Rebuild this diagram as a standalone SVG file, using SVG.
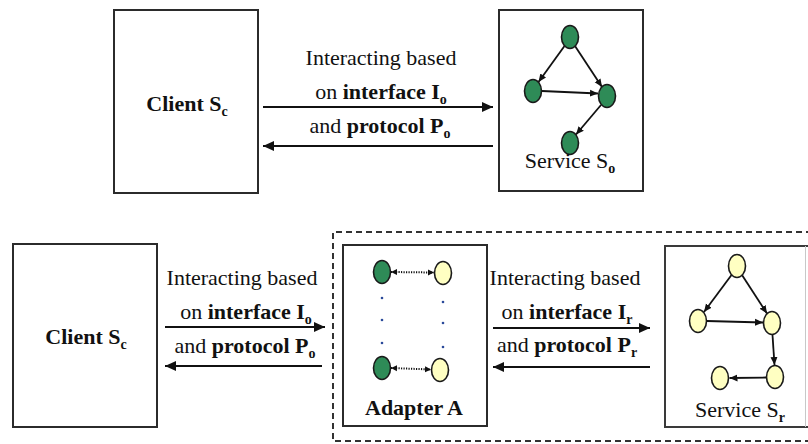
<svg xmlns="http://www.w3.org/2000/svg" width="808" height="444" viewBox="0 0 808 444">
  <style>
    .box { fill: #ffffff; stroke: #2b2b2b; stroke-width: 2; }
    .frame { fill: none; stroke: #333333; stroke-width: 2; stroke-dasharray: 6 4; }
    .lbl { font-family: 'Liberation Serif', 'DejaVu Serif', serif; font-size: 22px; fill: #111111; text-anchor: middle; }
    .b { font-weight: bold; }
    .sub { font-size: 14px; font-weight: bold; }
    .flow { stroke: #111111; stroke-width: 2; fill: none; }
    .edge { stroke: #111111; stroke-width: 1.8; fill: none; marker-end: url(#tip); }
    .map { stroke: #111111; stroke-width: 2; stroke-dasharray: 1.2 1.3; fill: none; marker-start: url(#tipS); marker-end: url(#tipS); }
    .g { fill: #2e8b57; stroke: #1a1a1a; stroke-width: 1.6; }
    .y { fill: #ffffc2; stroke: #1a1a1a; stroke-width: 1.6; }
    .dot { fill: #2a4a9a; }
  </style>
  <defs>
    <marker id="head" markerUnits="userSpaceOnUse" markerWidth="12" markerHeight="12" refX="11" refY="6" orient="auto">
      <path d="M0,1 L11,6 L0,11 z" fill="#111111"/>
    </marker>
    <marker id="tip" markerUnits="userSpaceOnUse" markerWidth="9" markerHeight="8" refX="8" refY="4" orient="auto">
      <path d="M0,0.5 L8,4 L0,7.5 z" fill="#111111"/>
    </marker>
    <marker id="tipS" markerUnits="userSpaceOnUse" markerWidth="7" markerHeight="7" refX="6" refY="3.5" orient="auto-start-reverse">
      <path d="M0,0.5 L6,3.5 L0,6.5 z" fill="#111111"/>
    </marker>
  </defs>

  <!-- adapter boundary -->
  <path class="frame" d="M812,232 H333 V441 H812"/>

  <!-- upper row: client talks directly to the original service -->
  <g id="client-top">
    <rect class="box" x="114" y="10" width="144" height="183"/>
    <text class="lbl b" x="187" y="111">Client S<tspan class="sub" dy="5">c</tspan></text>
  </g>

  <g id="service-o">
    <rect class="box" x="499" y="10" width="144" height="181"/>
    <g class="edges">
      <line class="edge" x1="564.5" y1="46" x2="538.5" y2="82"/>
      <line class="edge" x1="575" y1="46" x2="602" y2="87"/>
      <line class="edge" x1="542" y1="91" x2="598" y2="93.5"/>
      <line class="edge" x1="601" y1="105" x2="576" y2="134.5"/>
    </g>
    <ellipse class="g" cx="570" cy="37" rx="8.5" ry="11.5"/>
    <ellipse class="g" cx="533" cy="91" rx="8.5" ry="11.5"/>
    <ellipse class="g" cx="607" cy="96" rx="8.5" ry="11.5"/>
    <ellipse class="g" cx="570" cy="143" rx="8.5" ry="11.5"/>
    <text class="lbl" x="570" y="168">Service S<tspan class="sub" dy="5">o</tspan></text>
  </g>

  <!-- lower row: client, adapter and the replacement service -->
  <g id="client-bottom">
    <rect class="box" x="13" y="244" width="144" height="183"/>
    <text class="lbl b" x="86" y="344">Client S<tspan class="sub" dy="5">c</tspan></text>
  </g>

  <g id="adapter">
    <rect class="box" x="343" y="245" width="144" height="181"/>
    <line class="map" x1="391" y1="272" x2="434" y2="272.5"/>
    <line class="map" x1="391" y1="368" x2="431" y2="369.5"/>
    <ellipse class="g" cx="382" cy="272" rx="8.5" ry="11.5"/>
    <ellipse class="y" cx="443" cy="273" rx="8.5" ry="11.5"/>
    <ellipse class="g" cx="382" cy="368" rx="8.5" ry="11.5"/>
    <ellipse class="y" cx="440" cy="370" rx="8.5" ry="11.5"/>
    <circle class="dot" cx="382" cy="298" r="1.3"/>
    <circle class="dot" cx="382" cy="320" r="1.3"/>
    <circle class="dot" cx="382" cy="343" r="1.3"/>
    <circle class="dot" cx="443" cy="302" r="1.3"/>
    <circle class="dot" cx="443" cy="323" r="1.3"/>
    <circle class="dot" cx="443" cy="347" r="1.3"/>
    <text class="lbl b" x="414" y="415">Adapter A</text>
  </g>

  <g id="service-r">
    <rect x="665" y="246" width="140" height="181" fill="#ffffff" stroke="none"/>
    <path d="M812,246 H665 V427 H812" fill="none" stroke="#3a3a3a" stroke-width="2"/>
    <line x1="805.5" y1="246" x2="805.5" y2="427" stroke="#c8c8c8" stroke-width="1"/>
    <g class="edges">
      <line class="edge" x1="731.5" y1="275" x2="704" y2="312"/>
      <line class="edge" x1="742" y1="275" x2="767" y2="313.5"/>
      <line class="edge" x1="707" y1="321" x2="763" y2="322.5"/>
      <line class="edge" x1="772.5" y1="335" x2="774.5" y2="365"/>
      <line class="edge" x1="766" y1="377.5" x2="729.5" y2="378"/>
    </g>
    <ellipse class="y" cx="737" cy="266" rx="8.5" ry="11.5"/>
    <ellipse class="y" cx="698" cy="321" rx="8.5" ry="11.5"/>
    <ellipse class="y" cx="772" cy="323" rx="8.5" ry="11.5"/>
    <ellipse class="y" cx="775" cy="377" rx="8.5" ry="11.5"/>
    <ellipse class="y" cx="720" cy="378" rx="8.5" ry="11.5"/>
    <text class="lbl" x="740" y="417">Service S<tspan class="sub" dy="5">r</tspan></text>
  </g>

  <!-- request / response connectors -->
  <g id="connectors">
    <line class="flow" x1="263" y1="107" x2="493" y2="107" marker-end="url(#head)"/>
    <line class="flow" x1="493" y1="146" x2="263" y2="146" marker-end="url(#head)"/>
    <line class="flow" x1="165" y1="327" x2="325" y2="327" marker-end="url(#head)"/>
    <line class="flow" x1="322" y1="366" x2="165" y2="366" marker-end="url(#head)"/>
    <line class="flow" x1="493" y1="328" x2="650" y2="328" marker-end="url(#head)"/>
    <line class="flow" x1="650" y1="367" x2="493" y2="367" marker-end="url(#head)"/>
  </g>

  <!-- connector labels -->
  <g id="labels">
    <text class="lbl" x="381" y="65">Interacting based</text>
    <text class="lbl" x="381" y="99">on <tspan class="b">interface I</tspan><tspan class="sub" dy="5">o</tspan></text>
    <text class="lbl" x="380" y="133">and <tspan class="b">protocol P</tspan><tspan class="sub" dy="5">o</tspan></text>

    <text class="lbl" x="242" y="285">Interacting based</text>
    <text class="lbl" x="246" y="319">on <tspan class="b">interface I</tspan><tspan class="sub" dy="5">o</tspan></text>
    <text class="lbl" x="245" y="353">and <tspan class="b">protocol P</tspan><tspan class="sub" dy="5">o</tspan></text>

    <text class="lbl" x="565" y="285">Interacting based</text>
    <text class="lbl" x="567" y="319">on <tspan class="b">interface I</tspan><tspan class="sub" dy="5">r</tspan></text>
    <text class="lbl" x="567" y="352">and <tspan class="b">protocol P</tspan><tspan class="sub" dy="5">r</tspan></text>
  </g>
</svg>
